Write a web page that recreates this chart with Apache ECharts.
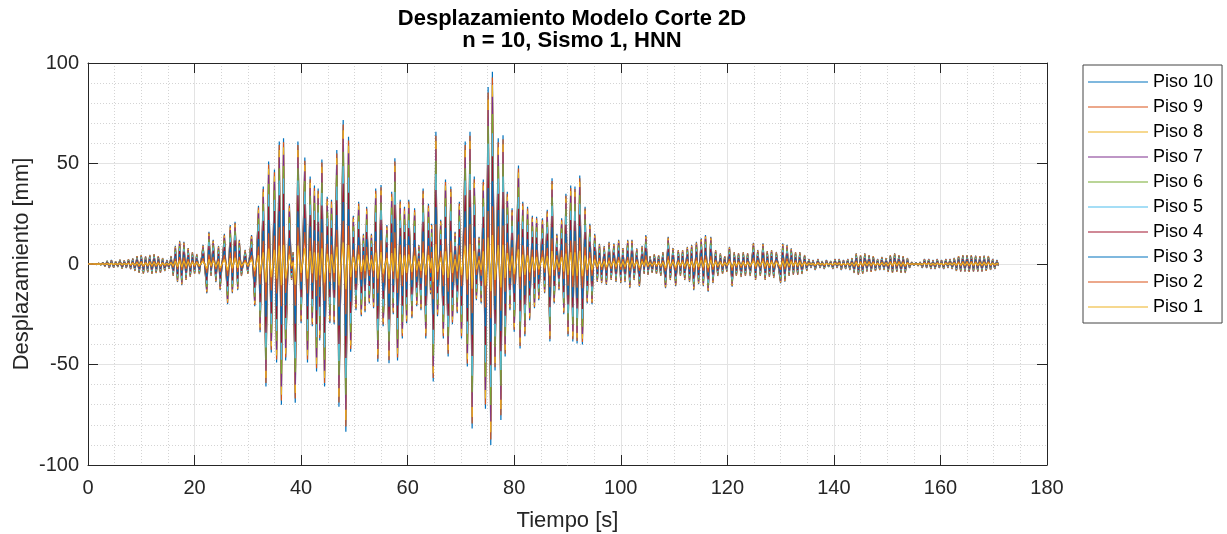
<!DOCTYPE html>
<html>
<head>
<meta charset="utf-8">
<script src="https://cdn.jsdelivr.net/npm/echarts@6/dist/echarts.min.js"></script>
<style>
html,body{margin:0;padding:0;background:#fff;}
#c{width:1227px;height:534px;}
</style>
</head>
<body>
<div id="c"></div>
<script>
// Names of the floors (legend order, Piso 10 first)
const pisos = ['Piso 10','Piso 9','Piso 8','Piso 7','Piso 6','Piso 5','Piso 4','Piso 3','Piso 2','Piso 1'];
// MATLAB default colour order
const colores = ['#0072BD','#D95319','#EDB120','#7E2F8E','#77AC30','#4DBEEE','#A2142F','#0072BD','#D95319','#EDB120'];
const formaModal = [1.00, 0.97, 0.93, 0.87, 0.78, 0.68, 0.56, 0.43, 0.30, 0.15];
// Tick labels
const ticksX = [0,20,40,60,80,100,120,140,160,180];
const ticksY = [-100,-50,0,50,100];
// Piso 10 displacement peaks: [tiempo s, desplazamiento mm]
const registro10 = [
[0,0],[0.4,0.1],[0.8,-0.1],[1.2,0.2],[1.6,-0.3],[2.0,0.4],[2.4,-0.5],[2.8,0.8],[3.2,-1.2],[3.6,1.6],
[4.0,-2.0],[4.4,2.0],[4.8,-1.8],[5.2,1.2],[5.6,-1.5],[6.0,2.2],[6.4,-2.4],[6.8,1.8],[7.2,-2.0],[7.6,2.4],
[8.0,-2.6],[8.4,2.8],[8.8,-3.5],[9.2,4.0],[9.6,-4.5],[10.0,4.6],[10.4,-5.0],[10.8,3.8],[11.2,-4.2],[11.6,4.6],
[12.0,-5.0],[12.4,5.0],[12.8,-4.6],[13.2,4.0],[13.6,-4.4],[14.0,3.0],[14.4,-3.5],[14.8,2.0],[15.2,-2.5],[15.6,4.0],
[16.0,-6],[16.4,9],[16.8,-9],[17.2,11.5],[17.6,-10.5],[18.0,11],[18.4,-8],[18.8,8],[19.2,-6.5],[19.6,6],
[20.0,-5],[20.4,5],[20.9,-5],[21.6,9.5],[22.3,-14.6],[22.7,16],[23.1,-6],[23.5,12],[24.0,-9],[24.5,9],
[24.8,-13],[25.6,15],[26.2,-20],[26.7,19.4],[27.1,-14.6],[27.6,21],[28.1,-13],[28.4,12],[28.8,-6],[29.5,7],
[30.0,-5],[30.7,14.4],[31.3,-21],[32.0,29],[32.3,-34],[32.9,38.5],[33.4,-61],[33.9,51],[34.4,-44],[35.0,47],
[35.4,-49],[35.9,61],[36.3,-70],[36.7,62.5],[37.1,-48],[37.8,30],[38.2,-8],[38.5,6],[38.9,-69],[39.4,61],
[40.0,-29.5],[40.7,53],[41.2,-49],[41.7,43.5],[42.1,-31],[42.5,39],[42.9,-53.5],[43.2,37.6],[43.5,-38],[43.9,52],
[44.4,-61],[44.9,33.5],[45.4,-29.5],[45.7,32],[46.2,-30],[46.7,56.7],[47.1,-71],[47.9,71.6],[48.4,-83.4],[48.9,63.3],
[49.3,-43.6],[49.8,24],[50.3,-23],[50.8,31],[51.3,-26],[51.7,15],[52.0,-24],[52.3,28.5],[52.8,-19.6],[53.2,15],
[53.6,-22],[54.0,37.6],[54.4,-48.6],[55.0,39.3],[55.4,-31],[56.1,19.4],[56.5,-49.4],[57.0,36],[57.3,-25],[57.6,52.6],
[58.1,-48],[58.6,32],[59.0,-37],[59.4,28.5],[59.8,-29.5],[60.2,32],[60.8,-27],[61.3,27.7],[61.7,-21],[62.1,9.5],
[62.5,-23],[62.9,37.6],[63.4,-37],[63.9,30],[64.3,-15],[64.5,20],[64.8,-58.5],[65.3,65.8],[65.6,-26],[66.2,22],
[66.7,-37],[67.1,42],[67.6,-46],[68.1,38.5],[68.4,-30],[68.9,16],[69.3,-24.5],[69.7,31],[70.1,-37],[70.8,61],
[71.2,-51],[71.7,65.8],[72.1,-81.8],[72.5,43.5],[72.9,-18],[73.4,13.6],[73.8,-19.6],[74.2,42],[74.6,-72],[75.1,88],
[75.6,-90],[75.9,95.7],[76.4,-53],[77.0,62.5],[77.5,-77.6],[77.9,64],[78.3,-46],[78.7,36],[79.2,-23],[79.6,27.7],
[80.0,-33.7],[80.8,49],[81.1,-42],[81.6,31],[82.0,-36],[82.5,28.5],[82.9,-28],[83.4,24],[83.8,-22],[84.2,23.5],
[84.6,-18],[85.3,22.7],[85.7,-14.6],[86.2,27],[86.7,-38.5],[87.1,42.6],[87.5,-19.6],[88.0,15],[88.4,-13],[88.9,22.7],
[89.3,-25],[89.7,35],[90.1,-36],[90.6,39],[91.0,-38.6],[91.4,38.5],[91.8,-39.5],[92.3,44],[92.8,-40],[93.3,28.5],
[93.7,-19.6],[94.2,20],[94.6,-20],[95.1,15],[95.6,-9],[96.0,10],[96.4,-9.6],[96.9,9],[97.3,-10.4],[97.8,11],
[98.2,-8],[98.7,10.3],[99.1,-9],[99.6,12],[100.0,-9.6],[100.4,8],[100.8,-9],[101.3,12],[101.7,-12],[102.1,12],
[102.5,-8],[103.0,7.8],[103.5,-11.3],[104.0,9],[104.4,-5],[104.7,14.4],[105.1,-5.5],[105.5,4],[105.9,-4.5],[106.3,5],
[106.7,-5],[107.1,4.5],[107.5,-6],[107.9,6],[108.4,-12],[108.9,13.6],[109.3,-8],[109.8,8],[110.3,-11],[110.8,7],
[111.2,-6],[111.6,7],[112.0,-8],[112.5,8.6],[112.9,-9],[113.3,9.5],[113.7,-13],[114.2,11],[114.6,-10],[115.1,12.8],
[115.5,-11],[115.9,14.4],[116.4,-13.8],[116.9,13.6],[117.3,-9.6],[117.8,7],[118.2,-6],[118.7,5.3],[119.1,-5],[119.5,4],
[119.9,-4],[120.4,8.6],[120.9,-11.3],[121.3,6],[121.7,-6],[122.1,5.5],[122.6,-6.5],[123.0,6],[123.4,-6],[123.8,5.5],
[124.3,-6],[124.9,10.6],[125.3,-8],[125.7,7],[126.2,-6],[126.7,10.3],[127.1,-8],[127.5,6.5],[127.9,-6.5],[128.3,7],
[128.7,-7],[129.2,6],[130.0,-9.6],[130.4,10.3],[130.8,-8.8],[131.2,9.5],[131.6,-6],[132.0,7.8],[132.4,-5.5],[132.8,6],
[133.2,-5.5],[133.6,6],[134.0,-5],[134.5,4.5],[134.9,-3.5],[135.3,2.5],[135.7,-2],[136.1,2],[136.5,-3],[137.0,2.5],
[137.4,-2],[137.8,1.5],[138.2,-2.5],[138.6,2],[139.0,-1.5],[139.4,1.5],[139.8,-2.5],[140.2,2.5],[140.6,-2],[141.0,2.5],
[141.4,-3],[141.8,2],[142.2,-2.5],[142.6,2.5],[143.0,-3],[143.4,3],[143.8,-4.5],[144.2,5.3],[144.6,-5.5],[145.0,4.5],
[145.4,-5],[145.8,5.3],[146.2,-3.8],[146.6,4.5],[147.0,-4],[147.4,4],[147.8,-3.5],[148.2,2.5],[148.6,-3],[149.0,3.5],
[149.4,-3],[149.8,3],[150.2,-4],[150.6,4.5],[151.0,-4.5],[151.4,5.3],[151.8,-4],[152.2,4.5],[152.6,-4.5],[153.0,4],
[153.4,-4.5],[153.8,3],[154.2,-2],[154.6,1],[155.0,-0.8],[155.4,0.8],[155.8,-1],[156.2,1],[156.6,-2],[157.0,2.5],
[157.4,-2],[157.8,2.5],[158.2,-2.5],[158.6,2],[159.0,-2.5],[159.4,2.5],[159.8,-2],[160.2,2],[160.6,-2.5],[161.0,2.5],
[161.4,-2],[161.8,2.5],[162.2,-2.5],[162.6,3],[163.0,-3.5],[163.4,4],[163.8,-3.8],[164.2,4.5],[164.6,-3.8],[165.0,4.5],
[165.4,-4],[165.8,4.5],[166.2,-3.8],[166.6,4.2],[167.0,-3.8],[167.4,4],[167.8,-3.8],[168.2,4.2],[168.6,-3.5],[169.0,4],
[169.4,-3],[169.8,2.5],[170.2,-2.5],[170.6,2],[170.9,-1]
];

const FONT = '"Liberation Sans", Arial, Helvetica, sans-serif';
const INK = '#262626';

const series = pisos.map((name, j) => ({
  name: name,
  type: 'line',
  xAxisIndex: 0,
  yAxisIndex: 0,
  symbol: 'none',
  silent: true,
  animation: false,
  lineStyle: { width: 1.2, color: colores[j] },
  itemStyle: { color: colores[j] },
  data: registro10.map(p => [p[0], Math.round(p[1] * formaModal[j] * 100) / 100]),
  z: 2
}));

function axisBase(min, max, interval, minorSplit) {
  return {
    type: 'value', min: min, max: max, interval: interval,
    axisLine: { show: true, onZero: false, lineStyle: { color: INK, width: 1 } },
    axisTick: { show: true, inside: true, length: 10, lineStyle: { color: INK } },
    minorTick: { show: false, splitNumber: minorSplit },
    splitLine: { show: false },
    minorSplitLine: { show: false },
    axisLabel: { show: false }
  };
}

const x0 = axisBase(0, 180, 20, 4);
Object.assign(x0, {
  position: 'bottom',
  name: 'Tiempo [s]', nameLocation: 'middle', nameGap: 45,
  nameTextStyle: { fontFamily: FONT, fontSize: 22, color: INK },
  splitLine: { show: true, lineStyle: { color: '#e3e3e3', width: 1 } },
  minorSplitLine: { show: true, lineStyle: { color: '#d4d4d4', width: 1, type: [1, 2] } },
  axisLabel: { show: true, fontFamily: FONT, fontSize: 20, color: INK, margin: 13,
    formatter: v => ticksX.includes(v) ? String(v) : '' }
});
const x1 = axisBase(0, 180, 20, 4);
x1.position = 'top';

const y0 = axisBase(-100, 100, 50, 5);
Object.assign(y0, {
  position: 'left',
  name: 'Desplazamiento [mm]', nameLocation: 'middle', nameGap: 55,
  nameMoveOverlap: false,
  nameTextStyle: { fontFamily: FONT, fontSize: 22, color: INK },
  splitLine: { show: true, lineStyle: { color: '#e3e3e3', width: 1 } },
  minorSplitLine: { show: true, lineStyle: { color: '#d4d4d4', width: 1, type: [1, 2] } },
  axisLabel: { show: true, fontFamily: FONT, fontSize: 20, color: INK, margin: 9,
    formatter: v => ticksY.includes(v) ? String(v) : '' }
});
const y1 = axisBase(-100, 100, 50, 5);
y1.position = 'right';

const chart = echarts.init(document.getElementById('c'), null, { renderer: 'canvas' });
chart.setOption({
  animation: false,
  backgroundColor: '#ffffff',
  title: {
    text: 'Desplazamiento Modelo Corte 2D\nn = 10, Sismo 1, HNN',
    left: 567, top: 3, textAlign: 'center',
    textStyle: { fontFamily: FONT, fontSize: 22, fontWeight: 'bold', color: '#000', lineHeight: 22 }
  },
  legend: {
    orient: 'vertical',
    left: 1083, top: 65,
    padding: [8, 9, 7, 5],
    itemGap: 7,
    itemWidth: 60, itemHeight: 1,
    icon: 'rect',
    borderColor: '#444', borderWidth: 1, borderRadius: 0,
    backgroundColor: '#fff',
    selectedMode: false,
    textStyle: { fontFamily: FONT, fontSize: 18, color: '#000', lineHeight: 18 },
    data: pisos
  },
  grid: { left: 88, right: 180, top: 63, bottom: 69, containLabel: false, outerBoundsMode: 'none' },
  xAxis: [x0, x1],
  yAxis: [y0, y1],
  series: series
});
</script>
</body>
</html>
